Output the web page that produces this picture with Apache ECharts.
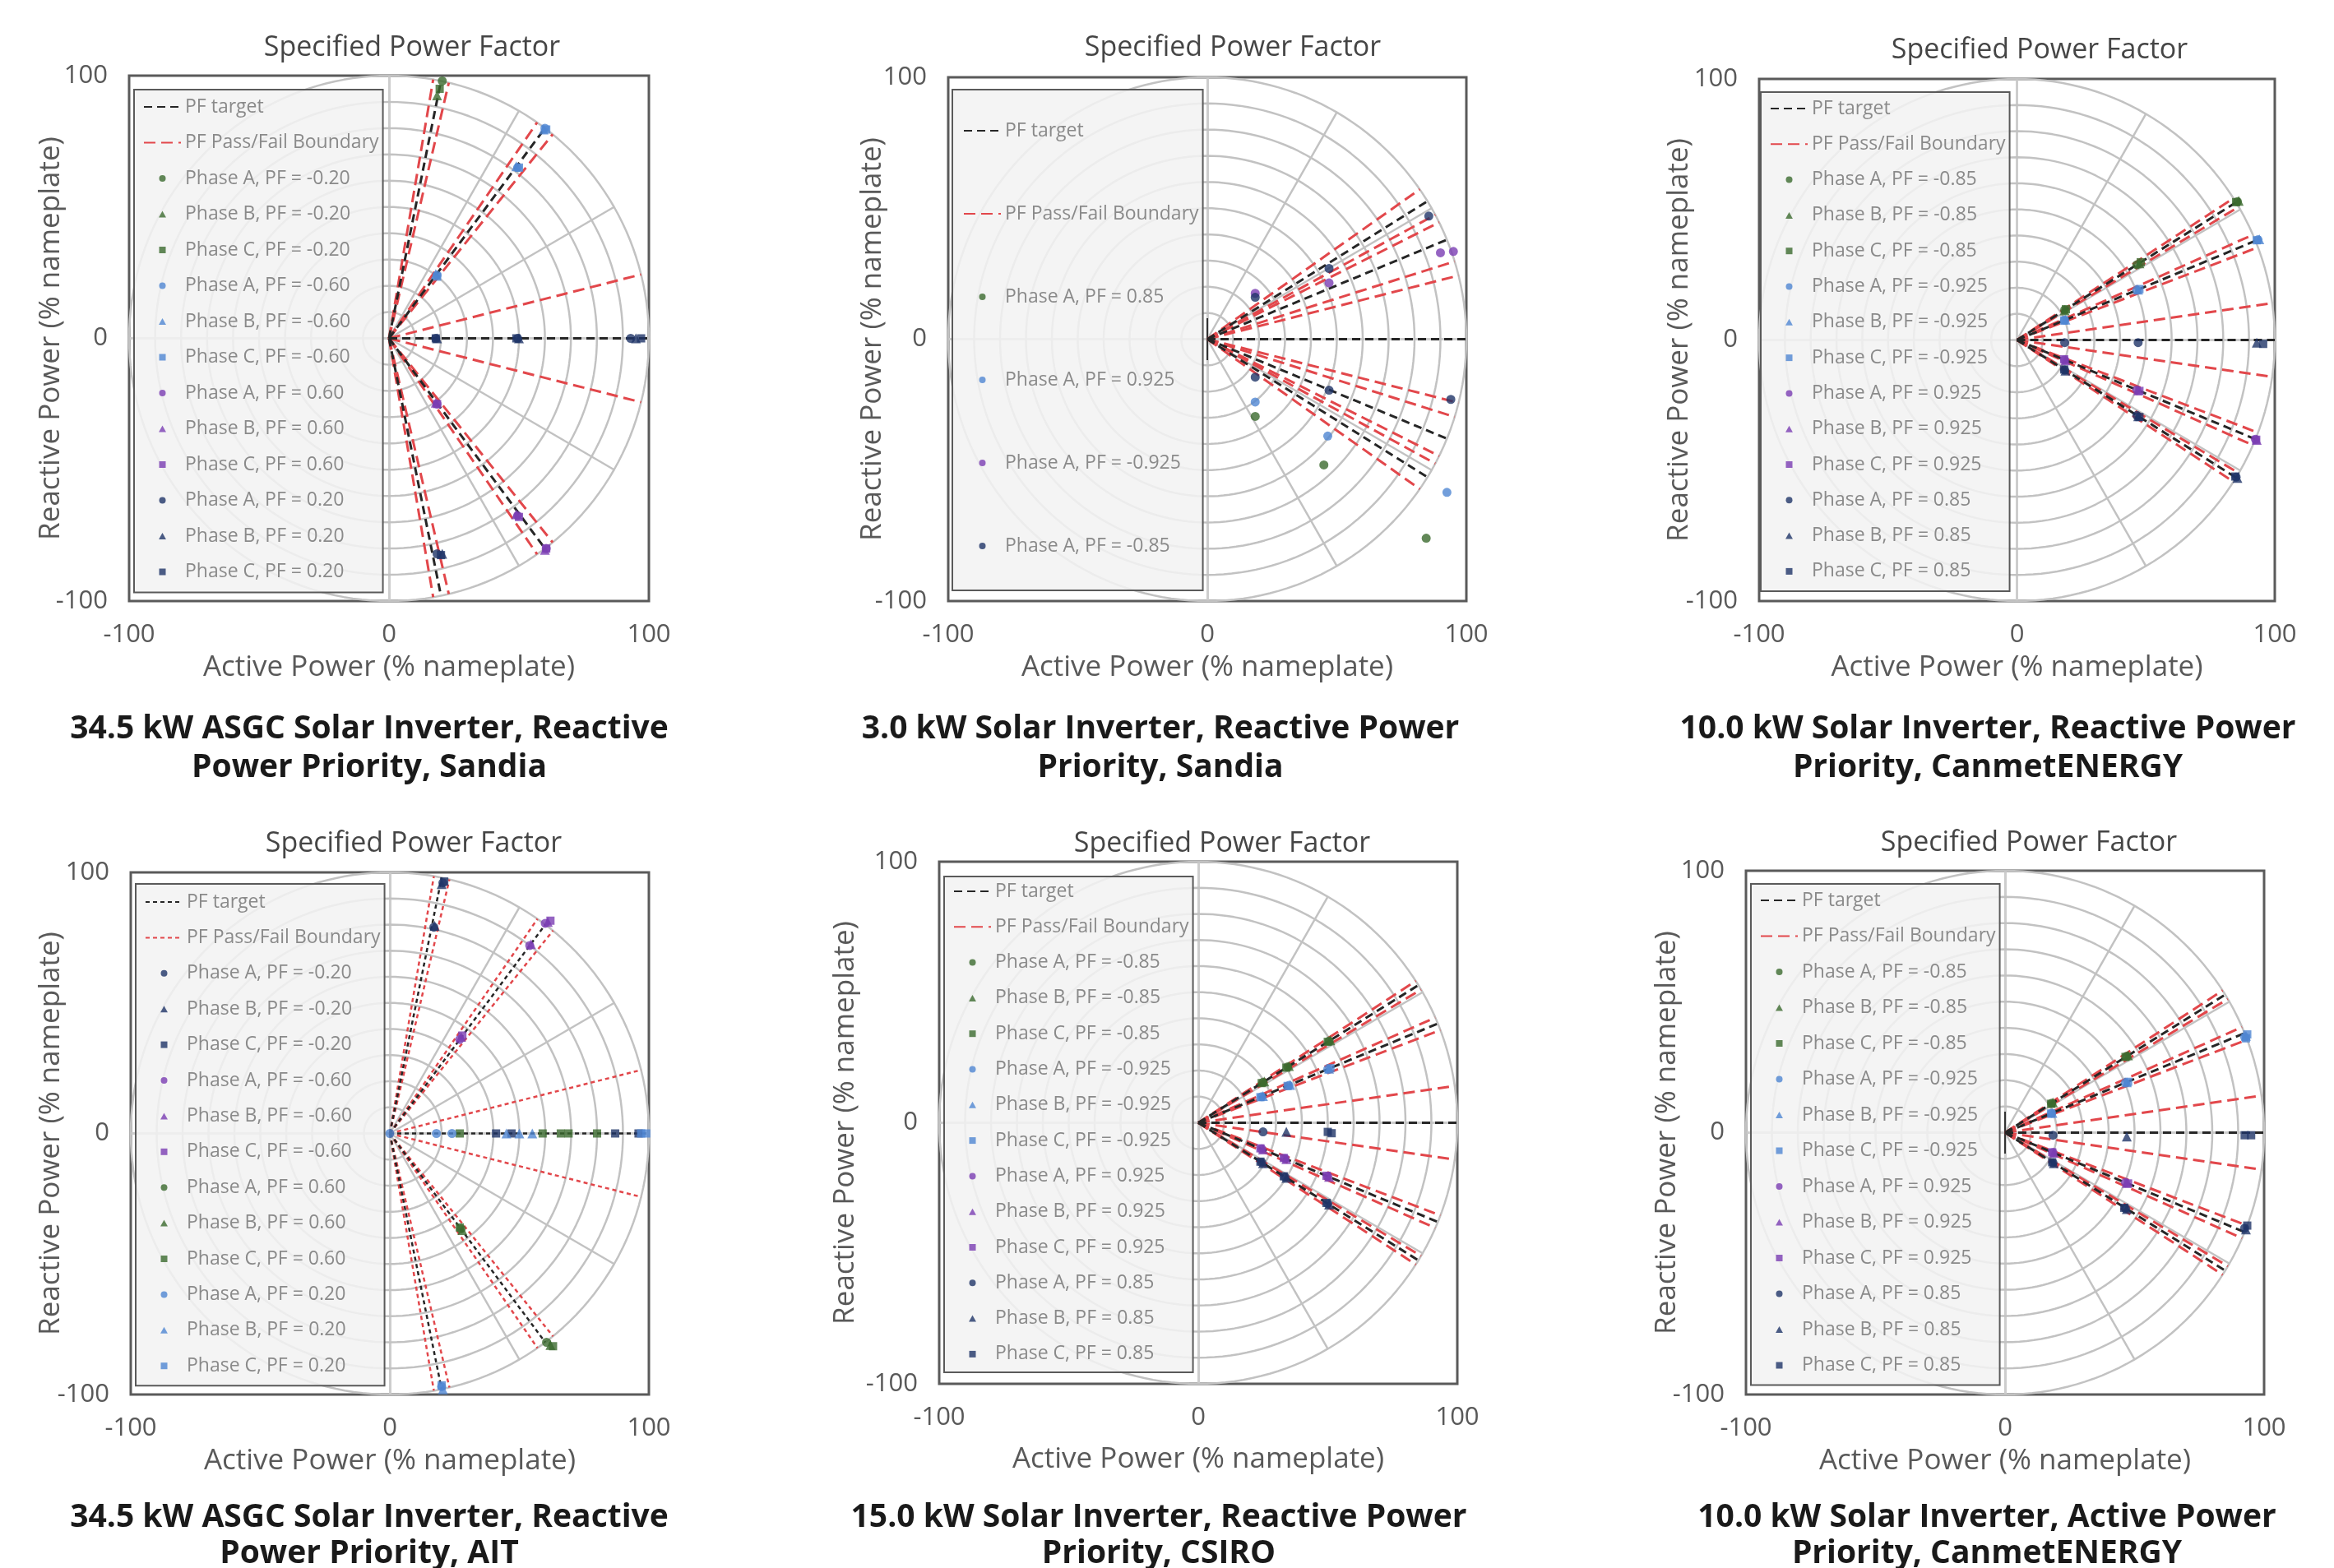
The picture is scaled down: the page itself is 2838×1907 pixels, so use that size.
<!DOCTYPE html>
<html><head><meta charset="utf-8">
<script src="https://cdn.jsdelivr.net/npm/echarts@6/dist/echarts.min.js"></script>
<style>html,body{margin:0;padding:0;background:#fff}#c{width:2838px;height:1907px}</style>
</head><body><div id="c"></div>
<script>
// ---------- axis / grid values ----------
const axisTicks = [-100, 0, 100];
const ringRadii = [10, 20, 30, 40, 50, 60, 70, 80, 90, 100];
const spokeAngles = [30, 60, -30, -60];
const originTick = [[0, -8], [0, 8]];

const chartTitle = 'Specified Power Factor';
const xName = 'Active Power (% nameplate)';
const yName = 'Reactive Power (% nameplate)';
const lineNames = ['PF target', 'PF Pass/Fail Boundary'];

const captions = [
  ['34.5 kW ASGC Solar Inverter, Reactive', 'Power Priority, Sandia'],
  ['3.0 kW Solar Inverter, Reactive Power', 'Priority, Sandia'],
  ['10.0 kW Solar Inverter, Reactive Power', 'Priority, CanmetENERGY'],
  ['34.5 kW ASGC Solar Inverter, Reactive', 'Power Priority, AIT'],
  ['15.0 kW Solar Inverter, Reactive Power', 'Priority, CSIRO'],
  ['10.0 kW Solar Inverter, Active Power', 'Priority, CanmetENERGY']
];

// ---------- Panel 1: 34.5 kW ASGC, Sandia ----------
const p1Target = [[20, 98], [60, 80], [100, 0], [60, -80], [20, -98]];
const p1Bound = [[17, 98.5], [23, 97.3], [57, 82.2], [63, 77.7], [97, 24.3], [97, -24.3], [63, -77.7], [57, -82.2], [23, -97.3], [17, -98.5]];
const p1Names = ['Phase A, PF = -0.20', 'Phase B, PF = -0.20', 'Phase C, PF = -0.20',
  'Phase A, PF = -0.60', 'Phase B, PF = -0.60', 'Phase C, PF = -0.60',
  'Phase A, PF = 0.60', 'Phase B, PF = 0.60', 'Phase C, PF = 0.60',
  'Phase A, PF = 0.20', 'Phase B, PF = 0.20', 'Phase C, PF = 0.20'];
const p1_A_n20 = [[20.5, 98]];
const p1_B_n20 = [[18.5, 92.5]];
const p1_C_n20 = [[19.5, 95]];
const p1_A_n60 = [[18.5, 24], [49.5, 65], [60, 80]];
const p1_B_n60 = [[18, 24.5], [49, 65.5], [59.5, 79.5]];
const p1_C_n60 = [[18.5, 23.5], [50, 65], [60.5, 79.5]];
const p1_A_p60 = [[18.5, -25], [49.5, -67.5], [60.5, -80]];
const p1_B_p60 = [[18, -24.5], [49, -67], [60, -80.5]];
const p1_C_p60 = [[18.5, -25], [50, -68], [60.5, -80]];
const p1_A_p20 = [[18.5, -82], [18, 0], [49.5, 0], [93, 0]];
const p1_B_p20 = [[20.5, -82], [18.5, 0], [50, 0], [95, 0]];
const p1_C_p20 = [[20, -82.5], [18, 0], [49, 0], [97, 0]];

// ---------- Panel 2: 3.0 kW, Sandia ----------
const p2Target = [[85, 52.7], [92.5, 38], [100, 0], [92.5, -38], [85, -52.7]];
const p2Bound = [[82, 57.2], [88, 47.5], [89.5, 44.6], [95.5, 29.7], [97, 24.3], [97, -24.3], [95.5, -29.7], [89.5, -44.6], [88, -47.5], [82, -57.2]];
const p2Names = ['Phase A, PF = 0.85', 'Phase A, PF = 0.925', 'Phase A, PF = -0.925', 'Phase A, PF = -0.85'];
const p2_A_p85 = [[18.5, -29.5], [45, -48], [84.5, -76]];
const p2_A_p925 = [[18.5, -24], [46.5, -37], [92.5, -58.5]];
const p2_A_n925 = [[18.5, 17.5], [47, 21.5], [90, 33], [95, 33.5]];
const p2_A_n85 = [[18.5, 16], [47, 27], [85.5, 47], [18.5, -14.5], [47, -19.5], [94, -23]];

// ---------- Panel 3: 10.0 kW, Reactive priority, CanmetENERGY ----------
const p3Target = [[85, 52.7], [92.5, 38], [100, 0], [92.5, -38], [85, -52.7]];
const p3Bound = [[84, 54.3], [86, 51], [91.5, 40.3], [93.5, 35.5], [99, 14.1], [99, -14.1], [93.5, -35.5], [91.5, -40.3], [86, -51], [84, -54.3]];
const p3Names = ['Phase A, PF = -0.85', 'Phase B, PF = -0.85', 'Phase C, PF = -0.85',
  'Phase A, PF = -0.925', 'Phase B, PF = -0.925', 'Phase C, PF = -0.925',
  'Phase A, PF = 0.925', 'Phase B, PF = 0.925', 'Phase C, PF = 0.925',
  'Phase A, PF = 0.85', 'Phase B, PF = 0.85', 'Phase C, PF = 0.85'];
const p3_A_n85 = [[18.5, 11.5], [46.5, 28.8], [85.5, 53]];
const p3_B_n85 = [[18.5, 11.3], [47.5, 29.4], [86, 53.3]];
const p3_C_n85 = [[19, 11.8], [48, 29.8], [85, 52.8]];
const p3_A_n925 = [[18.5, 7.6], [46.5, 19.1], [93.5, 38.4]];
const p3_B_n925 = [[18.8, 7.8], [47, 19.3], [94, 38.6]];
const p3_C_n925 = [[18.3, 7.5], [47.5, 19.5], [93, 38.2]];
const p3_A_p925 = [[18.5, -7.6], [46.5, -19.1], [92.5, -38]];
const p3_B_p925 = [[18.8, -7.8], [47, -19.3], [93, -38.3]];
const p3_C_p925 = [[18.3, -7.4], [47.5, -19.5], [92.8, -38.2]];
const p3_A_p85 = [[18.5, -11.5], [46.5, -28.9], [85, -52.5], [18.5, -1], [47, -1]];
const p3_B_p85 = [[18.8, -11.7], [47, -29.2], [85.5, -52.8], [93, -1]];
const p3_C_p85 = [[18.3, -11.3], [47.5, -29.5], [84.7, -52.3], [95.5, -1.5]];

// ---------- Panel 4: 34.5 kW ASGC, AIT ----------
const p4Target = [[20, 98], [60, 80], [100, 0], [60, -80], [20, -98]];
const p4Bound = [[17, 98.5], [23, 97.3], [57, 82.2], [63, 77.7], [97, 24.3], [97, -24.3], [63, -77.7], [57, -82.2], [23, -97.3], [17, -98.5]];
const p4Names = ['Phase A, PF = -0.20', 'Phase B, PF = -0.20', 'Phase C, PF = -0.20',
  'Phase A, PF = -0.60', 'Phase B, PF = -0.60', 'Phase C, PF = -0.60',
  'Phase A, PF = 0.60', 'Phase B, PF = 0.60', 'Phase C, PF = 0.60',
  'Phase A, PF = 0.20', 'Phase B, PF = 0.20', 'Phase C, PF = 0.20'];
const p4_A_n20 = [[20.5, 96], [17, 79]];
const p4_B_n20 = [[20, 95.5], [17.3, 79.5]];
const p4_C_n20 = [[21, 96.5], [41, 0], [47, 0], [87, 0], [96, 0]];
const p4_A_n60 = [[27, 36], [54, 72], [60, 80.5]];
const p4_B_n60 = [[27.5, 37], [61, 81], [54.5, 72.5]];
const p4_C_n60 = [[28, 37.5], [62, 81.5]];
const p4_A_p60 = [[27.5, -36.5], [60.5, -80]];
const p4_B_p60 = [[28, -37], [62, -81]];
const p4_C_p60 = [[27, -36], [63, -81.5], [27, 0], [59, 0], [66, 0], [69, 0], [80, 0]];
const p4_A_p20 = [[20, -97], [0, 0], [18, 0], [24, 0]];
const p4_B_p20 = [[20.5, -98], [45, 0], [50, 0], [55, 0]];
const p4_C_p20 = [[20, -96.5], [97, 0], [99, 0]];

// ---------- Panel 5: 15.0 kW, CSIRO ----------
const p5Target = [[85, 52.7], [92.5, 38], [100, 0], [92.5, -38], [85, -52.7]];
const p5Bound = [[84, 54.3], [86, 51], [91.5, 40.3], [93.5, 35.5], [99, 14.1], [99, -14.1], [93.5, -35.5], [91.5, -40.3], [86, -51], [84, -54.3]];
const p5Names = p3Names.slice();
const p5_A_n85 = [[25, 15.5], [34.5, 21.4], [50.5, 31.3]];
const p5_B_n85 = [[25.5, 15.8], [35, 21.7], [51, 31.6]];
const p5_C_n85 = [[24.5, 15.2], [34, 21.1], [50, 31]];
const p5_A_n925 = [[24.5, 10], [35, 14.3], [50, 20.5]];
const p5_B_n925 = [[25, 10.2], [35.5, 14.5], [50.5, 20.7]];
const p5_C_n925 = [[24, 9.8], [34.5, 14.1], [51, 20.9]];
const p5_A_p925 = [[24.5, -10], [33.5, -13.7], [50, -20.5]];
const p5_B_p925 = [[25, -10.2], [34, -13.9], [50.5, -20.7]];
const p5_C_p925 = [[24, -9.8], [33, -13.5], [49.5, -20.3]];
const p5_A_p85 = [[24.5, -15.2], [33.5, -20.8], [50, -31], [25, -3.5]];
const p5_B_p85 = [[25, -15.5], [34, -21.1], [50.5, -31.3], [34, -3.5]];
const p5_C_p85 = [[24, -14.9], [33, -20.5], [49.5, -30.7], [50, -3.5], [51.5, -4]];

// ---------- Panel 6: 10.0 kW, Active priority, CanmetENERGY ----------
const p6Target = [[85, 52.7], [92.5, 38], [100, 0], [92.5, -38], [85, -52.7]];
const p6Bound = [[84, 54.3], [86, 51], [91.5, 40.3], [93.5, 35.5], [99, 14.1], [99, -14.1], [93.5, -35.5], [91.5, -40.3], [86, -51], [84, -54.3]];
const p6Names = p3Names.slice();
const p6_A_n85 = [[18, 11.2], [47, 29.2]];
const p6_B_n85 = [[18.5, 11.5], [47.5, 29.5]];
const p6_C_n85 = [[17.8, 11], [46.5, 28.9]];
const p6_A_n925 = [[18, 7.4], [46.5, 19], [92.5, 36.5]];
const p6_B_n925 = [[18.3, 7.5], [47, 19.2], [93, 37]];
const p6_C_n925 = [[17.8, 7.3], [47.5, 19.4], [93.5, 37.5], [93, 36]];
const p6_A_p925 = [[18.5, -7.6], [46.5, -19]];
const p6_B_p925 = [[18.8, -7.7], [47, -19.2]];
const p6_C_p925 = [[18.2, -7.5], [47.5, -19.4]];
const p6_A_p85 = [[18.5, -11.5], [46.5, -29], [92.5, -36.5], [18.5, -1]];
const p6_B_p85 = [[18.8, -11.7], [47, -29.2], [93, -37], [47, -1.5]];
const p6_C_p85 = [[18.2, -11.3], [46, -28.7], [93.5, -35.5], [92.5, -1], [95, -1]];

// ---------- styles & layout ----------
const FONT = 'Open Sans';
const COL = { green: '#3b6a2e', blue: '#4f86d2', purple: '#7b3db3', navy: '#1f3468' };
const SYM = ['circle', 'triangle', 'rect'];
const LEGICON = ['circle', 'path://M5,0 L10,9 L0,9 Z', 'path://M0,0 L9,0 L9,9 L0,9 Z'];
const SYMSIZE = { circle: 11, triangle: 12, rect: 10 };
const order4 = (a, b, c, d) => [a, a, a, b, b, b, c, c, c, d, d, d];

const panels = [
  { grid: [157, 92, 632, 639], title: [501, 58], cap: [449, 887, 934], yGap: 77, xGap: 64,
    legend: [163, 109, [8, 5, 12, 11], 17.5], dash: 'long', tick: false,
    names: p1Names, colors: order4('green', 'blue', 'purple', 'navy'), multi: true,
    data: [p1_A_n20, p1_B_n20, p1_C_n20, p1_A_n60, p1_B_n60, p1_C_n60, p1_A_p60, p1_B_p60, p1_C_p60, p1_A_p20, p1_B_p20, p1_C_p20],
    target: p1Target, bound: p1Bound },
  { grid: [1153, 94, 630, 637], title: [1499, 58], cap: [1411, 887, 934], yGap: 74, xGap: 64,
    legend: [1158, 109, [37, 5, 41, 13], 75], dash: 'long', tick: true,
    names: p2Names, colors: ['green', 'blue', 'purple', 'navy'], multi: false,
    data: [p2_A_p85, p2_A_p925, p2_A_n925, p2_A_n85],
    target: p2Target, bound: p2Bound },
  { grid: [2139, 96, 627, 635], title: [2480, 61], cap: [2417, 887, 934], yGap: 79, xGap: 64,
    legend: [2141, 112, [7, 5, 11, 11], 17.3], dash: 'long', tick: false,
    names: p3Names, colors: order4('green', 'blue', 'purple', 'navy'), multi: true,
    data: [p3_A_n85, p3_B_n85, p3_C_n85, p3_A_n925, p3_B_n925, p3_C_n925, p3_A_p925, p3_B_p925, p3_C_p925, p3_A_p85, p3_B_p85, p3_C_p85],
    target: p3Target, bound: p3Bound },
  { grid: [159, 1061, 630, 635], title: [503, 1026], cap: [449, 1846, 1890], yGap: 79, xGap: 64,
    legend: [165, 1075, [9, 5, 11, 11], 17.4], dash: 'short', tick: false,
    names: p4Names, colors: order4('navy', 'purple', 'green', 'blue'), multi: true,
    data: [p4_A_n20, p4_B_n20, p4_C_n20, p4_A_n60, p4_B_n60, p4_C_n60, p4_A_p60, p4_B_p60, p4_C_p60, p4_A_p20, p4_B_p20, p4_C_p20],
    target: p4Target, bound: p4Bound },
  { grid: [1142, 1048, 630, 635], title: [1486, 1026], cap: [1409, 1846, 1890], yGap: 96, xGap: 75,
    legend: [1148, 1066, [5, 5, 9, 11], 17.3], dash: 'long', tick: false,
    names: p5Names, colors: order4('green', 'blue', 'purple', 'navy'), multi: true,
    data: [p5_A_n85, p5_B_n85, p5_C_n85, p5_A_n925, p5_B_n925, p5_C_n925, p5_A_p925, p5_B_p925, p5_C_p925, p5_A_p85, p5_B_p85, p5_C_p85],
    target: p5Target, bound: p5Bound },
  { grid: [2123, 1059, 630, 637], title: [2467, 1025], cap: [2416, 1846, 1890], yGap: 78, xGap: 64,
    legend: [2129, 1075, [7, 5, 11, 11], 17.5], dash: 'long', tick: true,
    names: p6Names, colors: order4('green', 'blue', 'purple', 'navy'), multi: true,
    data: [p6_A_n85, p6_B_n85, p6_C_n85, p6_A_n925, p6_B_n925, p6_C_n925, p6_A_p925, p6_B_p925, p6_C_p925, p6_A_p85, p6_B_p85, p6_C_p85],
    target: p6Target, bound: p6Bound }
];

const option = { animation: false, backgroundColor: '#ffffff', grid: [], xAxis: [], yAxis: [], legend: [], series: [], graphic: [] };
const strip = n => n.replace(/\u200B/g, '');
const RED = '#e2474b', BLACK = '#262626';

panels.forEach((p, i) => {
  const zw = '\u200B'.repeat(i + 1);
  option.grid.push({ left: p.grid[0], top: p.grid[1], width: p.grid[2], height: p.grid[3], show: true,
    borderColor: '#5a5a5a', borderWidth: 3, backgroundColor: '#ffffff' });
  const splitCols = axisTicks.map(v => v === 0 ? '#cdcdcd' : 'rgba(0,0,0,0)');
  const axisBase = { gridIndex: i, type: 'value', min: axisTicks[0], max: axisTicks[axisTicks.length - 1], interval: 100,
    axisLine: { show: false }, axisTick: { show: false },
    axisLabel: { fontSize: 31, color: '#595959', margin: 26, fontFamily: FONT },
    splitLine: { show: true, lineStyle: { color: splitCols, width: 3 } },
    nameLocation: 'middle', nameMoveOverlap: false,
    nameTextStyle: { fontSize: 35, color: '#595959', fontFamily: FONT } };
  option.xAxis.push(Object.assign({}, axisBase, { name: xName, nameGap: p.xGap }));
  option.yAxis.push(Object.assign({}, axisBase, { name: yName, nameGap: p.yGap, nameRotate: 90 }));

  const ax = { xAxisIndex: i, yAxisIndex: i };
  ringRadii.forEach(r => {
    const pts = [];
    for (let t = 0; t <= 360; t += 2) pts.push([r * Math.cos(t * Math.PI / 180), r * Math.sin(t * Math.PI / 180)]);
    option.series.push(Object.assign({ type: 'line', data: pts, symbol: 'none', silent: true, z: 1,
      lineStyle: { color: '#c2c2c2', width: 2.5 } }, ax));
  });
  spokeAngles.forEach(a => {
    const R = ringRadii[ringRadii.length - 1];
    option.series.push(Object.assign({ type: 'line', data: [[0, 0], [R * Math.cos(a * Math.PI / 180), R * Math.sin(a * Math.PI / 180)]],
      symbol: 'none', silent: true, z: 1, lineStyle: { color: '#c2c2c2', width: 2.5 } }, ax));
  });
  if (p.tick) {
    option.series.push(Object.assign({ type: 'line', data: originTick, symbol: 'none', silent: true, z: 2,
      lineStyle: { color: '#333333', width: 2 } }, ax));
  }
  const tDash = p.dash === 'short' ? [5, 4] : [10, 6];
  const bDash = p.dash === 'short' ? [5, 4] : [14, 7];
  const lw = p.dash === 'short' ? 2.5 : 3;
  p.bound.forEach(e => {
    option.series.push(Object.assign({ type: 'line', name: lineNames[1] + zw, data: [[0, 0], e], symbol: 'none', z: 3,
      itemStyle: { color: RED }, lineStyle: { color: RED, width: lw, type: bDash } }, ax));
  });
  p.target.forEach(e => {
    option.series.push(Object.assign({ type: 'line', name: lineNames[0] + zw, data: [[0, 0], e], symbol: 'none', z: 3,
      itemStyle: { color: BLACK }, lineStyle: { color: BLACK, width: lw, type: tDash } }, ax));
  });
  p.names.forEach((n, j) => {
    const sym = p.multi ? SYM[j % 3] : 'circle';
    option.series.push(Object.assign({ type: 'scatter', name: n + zw, data: p.data[j], symbol: sym, symbolSize: SYMSIZE[sym],
      z: 4, itemStyle: { color: COL[p.colors[j]] } }, ax));
  });
  const legData = lineNames.map(n => ({ name: n + zw, itemStyle: { opacity: 0 } }))
    .concat(p.names.map((n, j) => ({ name: n + zw, icon: p.multi ? LEGICON[j % 3] : 'circle' })));
  option.legend.push({
    left: p.legend[0], top: p.legend[1], orient: 'vertical', padding: p.legend[2], itemGap: p.legend[3],
    itemWidth: 45, itemHeight: 8, selectedMode: false, z: 10, symbolKeepAspect: true,
    backgroundColor: 'rgba(242,242,242,0.86)', borderColor: '#5a5a5a', borderWidth: 2, borderRadius: 0,
    textStyle: { fontSize: 23, color: '#8a8a8a', fontFamily: FONT, lineHeight: 26 },
    formatter: strip,
    data: legData
  });
  option.graphic.push({ type: 'text', x: p.title[0], y: p.title[1], z: 20,
    style: { text: chartTitle, fill: '#454545', fontSize: 34, fontFamily: FONT, textAlign: 'center', textVerticalAlign: 'middle', align: 'center', verticalAlign: 'middle' } });
  const cap = captions[i];
  [cap[0], cap[1]].forEach((line, k) => {
    option.graphic.push({ type: 'text', x: p.cap[0], y: p.cap[1 + k], z: 20,
      style: { text: line, fill: '#1a1a1a', fontSize: 39, fontWeight: 'bold', fontFamily: FONT, textAlign: 'center', textVerticalAlign: 'middle', align: 'center', verticalAlign: 'middle' } });
  });
});

const chart = echarts.init(document.getElementById('c'), null, { renderer: 'canvas' });
chart.setOption(option);
</script></body></html>
